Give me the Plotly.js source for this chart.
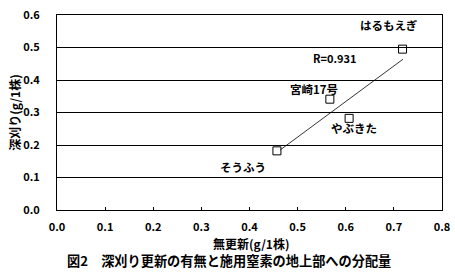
<!DOCTYPE html>
<html><head><meta charset="utf-8">
<script src="https://cdn.plot.ly/plotly-3.0.1.min.js"></script>
<style>html,body{margin:0;padding:0;background:#fff;}#c{width:455px;height:277px;}</style>
</head><body><div id="c"></div>
<script>
var varieties = ["そうふう", "宮崎17号", "やぶきた", "はるもえぎ"];
var noRenewal = [0.457, 0.567, 0.607, 0.718];
var deepCut = [0.182, 0.341, 0.282, 0.495];
var trendX = [0.464, 0.719];
var trendY = [0.185, 0.464];
var rText = "R=0.931";
var xTicks = [0, 0.1, 0.2, 0.3, 0.4, 0.5, 0.6, 0.7, 0.8];
var yTicks = [0, 0.1, 0.2, 0.3, 0.4, 0.5, 0.6];
var xTitle = "無更新(g/1株)";
var yTitle = "深刈り(g/1株)";
var caption = "図2　深刈り更新の有無と施用窒素の地上部への分配量";

var F = "'Noto Sans CJK JP', 'DejaVu Sans', sans-serif";
var labelOffsets = {"そうふう": [-0.07, -0.05], "宮崎17号": [-0.032, 0.031], "やぶきた": [0.01, -0.03], "はるもえぎ": [-0.029, 0.074]};

var traces = [
  {x: trendX, y: trendY, mode: "lines", line: {color: "#000", width: 0.8}, hoverinfo: "skip"},
  {x: noRenewal, y: deepCut, mode: "markers", marker: {symbol: "square-open", size: 8, color: "#000", line: {width: 1, color: "#000"}}}
];
var annotations = varieties.map(function(v, i) {
  var o = labelOffsets[v];
  return {x: noRenewal[i] + o[0], y: deepCut[i] + o[1], text: v, showarrow: false, xref: "x", yref: "y",
          font: {family: F, size: 11.5, color: "#000", weight: "bold"}};
});
annotations.push({x: 0.578, y: 0.468, text: rText, showarrow: false, xref: "x", yref: "y",
  font: {family: F, size: 11, color: "#000", weight: "bold"}});
annotations.push({x: 0.505, y: -0.172, xref: "paper", yref: "paper", yanchor: "middle", xanchor: "center",
  text: xTitle, showarrow: false, font: {family: F, size: 12, color: "#000", weight: "bold"}});
annotations.push({x: 0.448, y: -0.258, xref: "paper", yref: "paper", yanchor: "middle", xanchor: "center",
  text: caption, showarrow: false, font: {family: F, size: 13.2, color: "#000", weight: "bold"}});

var layout = {
  width: 455, height: 277,
  margin: {l: 57, r: 13, t: 15, b: 67},
  paper_bgcolor: "#fff", plot_bgcolor: "#fff",
  showlegend: false,
  xaxis: {range: [0, 0.8], tickvals: xTicks, ticktext: xTicks.map(function(v){return v.toFixed(1);}),
    showgrid: false, zeroline: false, showline: true, linecolor: "#000", linewidth: 1, mirror: true,
    ticks: "inside", ticklen: 3, tickcolor: "#000", ticklabelstandoff: 7,
    tickfont: {family: F, size: 11, color: "#000", weight: "bold"}},
  yaxis: {range: [0, 0.6], tickvals: yTicks, ticktext: yTicks.map(function(v){return v.toFixed(1);}),
    showgrid: true, gridcolor: "#000", gridwidth: 1, zeroline: false, showline: true, linecolor: "#000", linewidth: 1, mirror: true,
    ticks: "", ticklabelstandoff: 14, tickfont: {family: F, size: 11, color: "#000", weight: "bold"},
    title: {text: yTitle, font: {family: F, size: 12, color: "#000", weight: "bold"}, standoff: 0}},
  annotations: annotations
};
Plotly.newPlot("c", traces, layout, {staticPlot: true});
</script></body></html>
